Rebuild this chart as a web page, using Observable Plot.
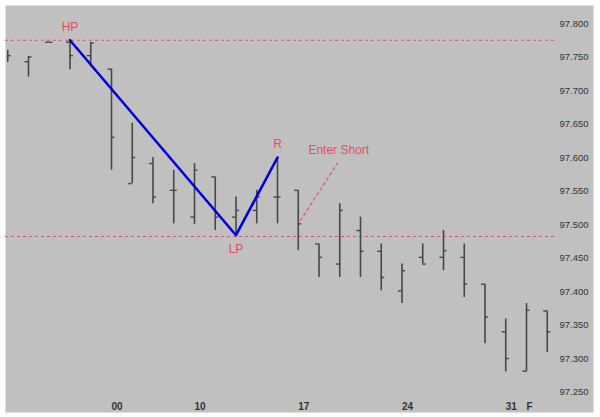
<!DOCTYPE html>
<html><head><meta charset="utf-8">
<script src="https://cdn.jsdelivr.net/npm/d3@7"></script>
<script src="https://cdn.jsdelivr.net/npm/@observablehq/plot@0.6"></script>
<style>body{margin:0;background:#fff}</style>
</head><body><div id="chart"></div>
<script>
// Daily OHLC bars (index 0..26)
const barIndex = d3.range(27);
const open  = [null, 97.743, 97.772, 97.772, 97.752, 97.732, 97.561, 97.591, 97.551, 97.511, 97.571, 97.511, 97.521, 97.541, 97.551, 97.471, 97.441, 97.491, 97.460, 97.401, 97.451, 97.451, 97.451, 97.411, 97.340, 97.281, 97.371];
const high  = [97.760, 97.751, 97.772, 97.775, 97.771, 97.732, 97.651, 97.600, 97.581, 97.591, 97.571, 97.541, 97.551, 97.600, 97.551, 97.471, 97.531, 97.511, 97.471, 97.441, 97.471, 97.491, 97.471, 97.411, 97.359, 97.382, 97.371];
const low   = [97.742, 97.720, 97.772, 97.731, 97.735, 97.581, 97.561, 97.531, 97.501, 97.500, 97.491, 97.482, 97.501, 97.501, 97.461, 97.421, 97.421, 97.421, 97.401, 97.382, 97.441, 97.431, 97.391, 97.322, 97.280, 97.280, 97.309];
const close = [97.752, 97.750, 97.772, 97.752, 97.771, 97.630, 97.600, 97.541, 97.551, 97.581, 97.511, 97.521, 97.541, 97.541, 97.501, 97.451, 97.521, 97.460, 97.421, 97.431, 97.441, 97.461, 97.411, 97.362, 97.300, 97.372, 97.340];

// Axis ticks
const xTickIndex  = [5, 9, 14, 19, 24, 25];
const xTickLabels = ["00", "10", "17", "24", "31", "F"];
const yTicks = [97.25, 97.30, 97.35, 97.40, 97.45, 97.50, 97.55, 97.60, 97.65, 97.70, 97.75, 97.80];

// Annotations
const levels = [97.775, 97.482];
const swingIndex  = [3, 11, 13];
const swingValue  = [97.775, 97.484, 97.600];
const swingLabels = ["HP", "LP", "R"];
const swingPlace  = ["above", "below", "above"];
const entryIndex = [14.11, 15.88];
const entryValue = [97.506, 97.591];
const noteText = ["Enter Short"];
const noteIndex = [14.49];
const noteValue = [97.6104];

const data = barIndex.map(i => ({i, o: open[i], h: high[i], l: low[i], c: close[i]}));
const swing = swingIndex.map((i, k) => ({i, v: swingValue[k], label: swingLabels[k], place: swingPlace[k]}));
const entry = entryIndex.map((i, k) => ({i, v: entryValue[k]}));
const notes = noteText.map((t, k) => ({t, i: noteIndex[k], v: noteValue[k]}));

const barColor = "#474747";
const red = "#e2505e";
const tickLen = 0.17;

const chart = Plot.plot({
  width: 600,
  height: 417,
  marginTop: 5, marginLeft: 5, marginRight: 7, marginBottom: 5,
  style: {fontFamily: "'Liberation Sans', Arial, sans-serif", background: "#fff"},
  x: {type: "linear", domain: [0, 26], range: [7.25, 546.75], label: null},
  y: {domain: [97.25, 97.80], range: [391.5, 23], label: null},
  marks: [
    Plot.frame({fill: "#c0c0c0", stroke: null}),
    Plot.ruleY(levels, {x1: -0.11, x2: 26.5, stroke: red, strokeWidth: 1.1, strokeDasharray: "3,3"}),
    Plot.ruleX(data, {x: "i", y1: "l", y2: "h", stroke: barColor, strokeWidth: 1.6}),
    Plot.ruleY(data.filter(d => d.o != null), {y: "o", x1: d => d.i - tickLen, x2: d => d.i, stroke: barColor, strokeWidth: 1.4}),
    Plot.ruleY(data, {y: "c", x1: d => d.i, x2: d => d.i + tickLen, stroke: barColor, strokeWidth: 1.4}),
    Plot.line(swing, {x: "i", y: "v", stroke: "#0000dd", strokeWidth: 2.6}),
    Plot.text(swing.filter(d => d.place === "above"), {x: "i", y: "v", text: "label", dy: -13, fill: red, fontSize: 12}),
    Plot.text(swing.filter(d => d.place === "below"), {x: "i", y: "v", text: "label", dy: 14, fill: red, fontSize: 12}),
    Plot.line(entry, {x: "i", y: "v", stroke: red, strokeWidth: 1.1, strokeDasharray: "3,3"}),
    Plot.text(notes, {x: "i", y: "v", text: "t", textAnchor: "start", fill: red, fontSize: 12}),
    Plot.axisY(yTicks, {anchor: "left", tickSize: 0, tickPadding: 0, dx: 583, textAnchor: "end", tickFormat: d3.format(".3f"), fontSize: 9.5, fill: "#333"}),
    Plot.axisX(xTickIndex, {anchor: "bottom", tickSize: 0, tickPadding: 3, dy: -13, textAnchor: "start", tickFormat: d => xTickLabels[xTickIndex.indexOf(d)], fontSize: 10, fontWeight: "bold", fill: "#333"})
  ]
});
document.getElementById("chart").appendChild(chart);
</script>
</body></html>
